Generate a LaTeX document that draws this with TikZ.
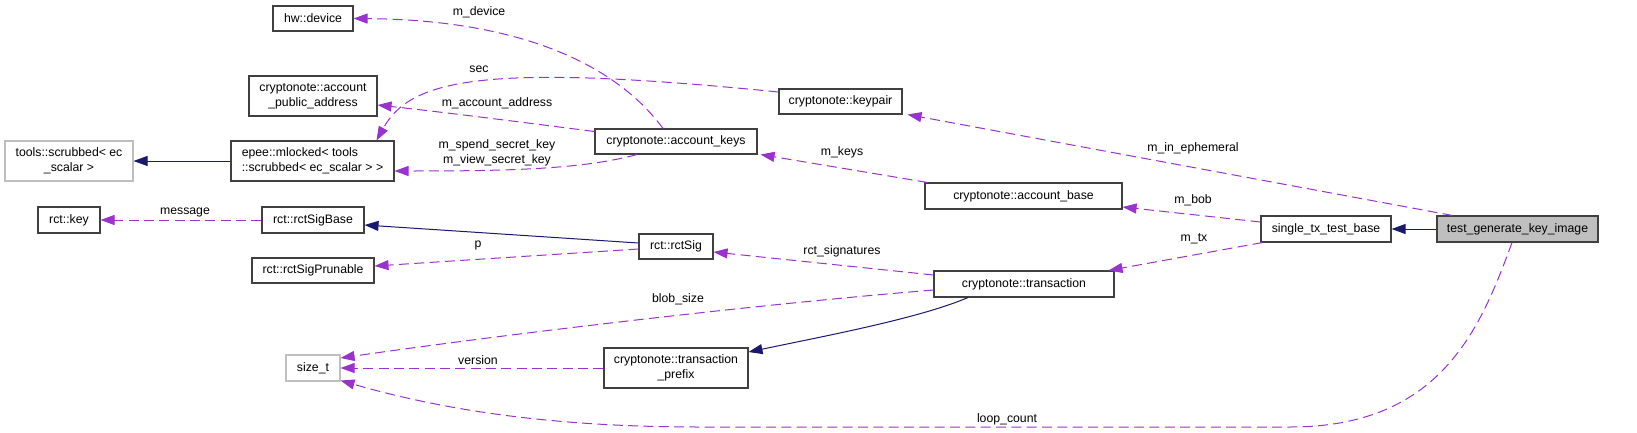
\documentclass[tikz,border=0pt]{standalone}
\usepackage{fontspec}
\setmainfont{Liberation Sans}
\usetikzlibrary{arrows.meta,calc}
\definecolor{dep}{HTML}{9A32CD}
\definecolor{inh}{HTML}{191970}
\definecolor{lgray}{HTML}{BFBFBF}
\definecolor{bord}{HTML}{404040}
\tikzset{
  box/.style={draw=bord, line width=0.8pt, fill=white, inner sep=0pt, align=center,
    font=\fontsize{9.2pt}{11.25pt}\selectfont},
  graybox/.style={box, draw=lgray},
  sz/.style n args={2}{minimum width=#1*0.75pt, minimum height=#2*0.75pt},
  depedge/.style={draw=dep, line width=0.75pt, dash pattern=on 7.5pt off 4pt,
    -{Triangle[length=10.5pt,width=7.5pt,fill=dep]}},
  inhedge/.style={draw=inh, line width=0.75pt,
    -{Triangle[length=10.5pt,width=7.5pt,fill=inh]}},
  lbl/.style={font=\fontsize{9.2pt}{11.25pt}\selectfont, inner sep=0pt, align=center}
}
\begin{document}
\begin{tikzpicture}[x=0.75pt, y=-0.75pt]
\useasboundingbox[fill=white] (0,0) rectangle (1637,432);
% nodes
\node[box, sz={80}{25}] (hw) at (313,18.5) {hw::device};
\node[box, sz={128}{40}] (pubaddr) at (313,96) {cryptonote::account\\\_public\_address};
\node[graybox, sz={128}{40}] (scrub) at (69,161) {tools::scrubbed< ec\\\_scalar >};
\node[box, sz={163}{40}, align=left] (epee) at (312.5,161) {epee::mlocked< tools\\::scrubbed< ec\_scalar > >};
\node[box, sz={62}{26}] (key) at (69,220) {rct::key};
\node[box, sz={102}{26}] (sigbase) at (313,220) {rct::rctSigBase};
\node[box, sz={122}{25}] (prunable) at (313,270.5) {rct::rctSigPrunable};
\node[graybox, sz={54}{26}] (sizet) at (313,368) {size\_t};
\node[box, sz={74}{25}] (rctsig) at (676,246.5) {rct::rctSig};
\node[box, sz={180}{26}] (trans) at (1024,284) {cryptonote::transaction};
\node[box, sz={144}{40}] (prefix) at (676,368) {cryptonote::transaction\\\_prefix};
\node[box, sz={130}{26}] (single) at (1326,229) {single\_tx\_test\_base};
\node[box, sz={161}{26}, fill=lgray] (test) at (1517.5,229) {test\_generate\_key\_image};
\node[box, sz={123}{25}] (keypair) at (840.5,101.5) {cryptonote::keypair};
\node[box, sz={162}{25}] (acckeys) at (676,141.5) {cryptonote::account\_keys};
\node[box, sz={197}{26}] (accbase) at (1023.5,196) {cryptonote::account\_base};
% edges
\draw[depedge] ($(acckeys.north)+(-13,0)$) .. controls (620,70) and (530,20) .. (hw.east);
\node[lbl] (l1) at (479,12) {m\_device};
\draw[depedge] ($(keypair.west)+(0,-9.5)$) .. controls (480,62) and (410,80) .. ($(epee.north)+(64,0)$);
\node[lbl] (l2) at (479,69) {sec};
\draw[depedge] ($(acckeys.west)+(0,-10)$) .. controls (520,122) and (450,113) .. ($(pubaddr.east)+(0,9)$);
\node[lbl] (l3) at (497,103) {m\_account\_address};
\draw[depedge] ($(acckeys.south)+(-39,0)$) .. controls (580,170) and (500,171) .. ($(epee.east)+(0,10)$);
\node[lbl] (l4) at (497,152.5) {m\_spend\_secret\_key\\m\_view\_secret\_key};
\draw[inhedge] (epee.west) -- (scrub.east);
\draw[depedge] ($(accbase.north west)+(3,0)$) -- ($(acckeys.south east)+(3,0)$);
\node[lbl] (l6) at (842,152) {m\_keys};
\draw[depedge] ($(test.north west)+(16,0)$) -- ($(keypair.south east)+(5,0)$);
\node[lbl] (l7) at (1193,148) {m\_in\_ephemeral};
\draw[depedge] ($(single.west)+(0,-7)$) -- ($(accbase.east)+(0,11)$);
\node[lbl] (l8) at (1193,200) {m\_bob};
\draw[depedge] ($(single.south west)+(2,0)$) -- ($(trans.north east)+(-6,0)$);
\node[lbl] (l9) at (1194,239) {m\_tx};
\draw[inhedge] (test.west) -- (single.east);
\draw[inhedge] ($(rctsig.west)+(0,-3.5)$) -- ($(sigbase.east)+(0,5)$);
\draw[depedge] ($(rctsig.west)+(0,2.5)$) -- ($(prunable.east)+(0,-4.5)$);
\node[lbl] (l12) at (478,245) {p};
\draw[depedge] (sigbase.west) -- (key.east);
\node[lbl] (l13) at (185,212) {message};
\draw[depedge] ($(trans.west)+(0,-9)$) -- ($(rctsig.east)+(0,5.5)$);
\node[lbl] (l14) at (842,251) {rct\_signatures};
\draw[depedge] ($(trans.west)+(0,6)$) .. controls (750,305) and (500,335) .. ($(sizet.east)+(0,-10)$);
\node[lbl] (l15) at (678,299) {blob\_size};
\draw[inhedge] ($(trans.south)+(-56,0)$) .. controls (920,318) and (830,335) .. ($(prefix.east)+(0,-16)$);
\draw[depedge] (prefix.west) -- (sizet.east);
\node[lbl] (l17) at (478,360) {version};
\draw[depedge] ($(test.south)+(-5.5,0)$) .. controls (1480,330) and (1440,427) .. (1290,427)
  -- (700,427) .. controls (560,427) and (450,412) .. ($(sizet.south east)+(0,-1)$);
\node[lbl] (l18) at (1007,419) {loop\_count};
\end{tikzpicture}
\end{document}
